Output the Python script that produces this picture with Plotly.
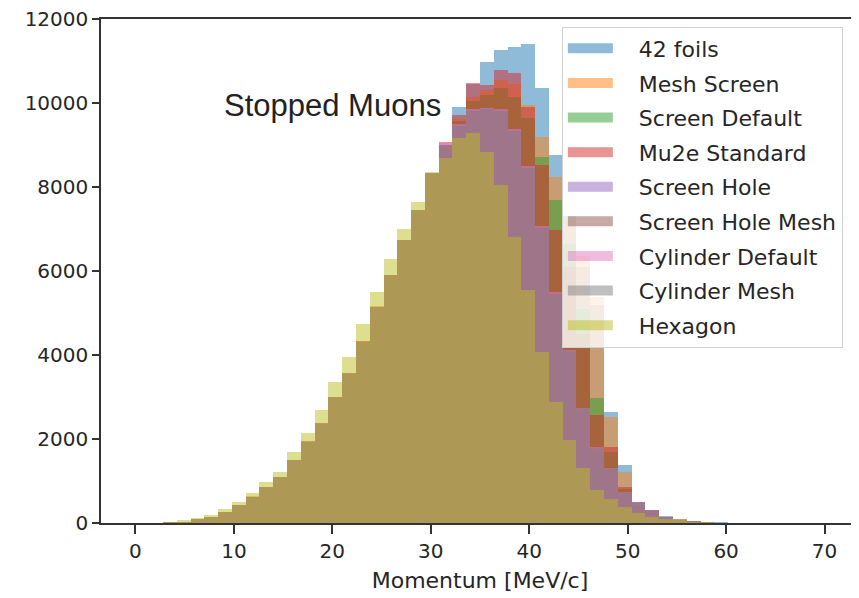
import numpy as np
import plotly.graph_objects as go

# 50 bins of 1.4 MeV/c from 0 to 70
bin_edges = np.linspace(0, 70, 51)

series_names = ["42 foils", "Mesh Screen", "Screen Default", "Mu2e Standard",
                "Screen Hole", "Screen Hole Mesh", "Cylinder Default",
                "Cylinder Mesh", "Hexagon"]

foils42 = [0, 0, 18, 32, 88, 148, 262, 428, 625, 858, 1095, 1490, 1935, 2360, 2985, 3550, 4310, 5140, 5890, 6730, 7440, 8320,
           9000, 9900, 10450, 10980, 11260, 11340, 11400, 10360, 8760, 7300, 6100, 5200, 2640, 1380, 470, 300, 160, 90, 55, 30, 15,
           0, 0, 0, 0, 0, 0, 0]
mesh_screen = [0, 0, 20, 30, 92, 152, 258, 432, 632, 862, 1102, 1505, 1945, 2375, 2995, 3565, 4325, 5155, 5905, 6745, 7455, 8335,
               8950, 9620, 10150, 10300, 10550, 10450, 9950, 9190, 8240, 7250, 6350, 5380, 2520, 1210, 450, 280, 150, 85, 50, 28, 12,
               0, 0, 0, 0, 0, 0, 0]
screen_default = [0, 0, 19, 31, 90, 150, 260, 430, 628, 860, 1098, 1498, 1940, 2368, 2990, 3558, 4318, 5148, 5898, 6738, 7448, 8328,
                  8920, 9560, 10050, 10200, 10350, 10150, 9650, 8710, 7690, 6650, 5100, 2980, 1700, 820, 420, 270, 140, 80, 45, 25, 10,
                  0, 0, 0, 0, 0, 0, 0]
mu2e_standard = [0, 0, 21, 29, 91, 151, 261, 431, 631, 861, 1101, 1502, 1942, 2372, 2992, 3562, 4322, 5152, 5902, 6742, 7452, 8332,
                 9070, 9710, 10470, 10430, 10790, 10710, 9900, 8520, 6980, 6100, 4500, 2570, 1810, 860, 440, 280, 145, 80, 45, 25, 10,
                 0, 0, 0, 0, 0, 0, 0]
screen_hole = [0, 0, 20, 30, 89, 149, 259, 429, 629, 859, 1099, 1499, 1939, 2369, 2989, 3559, 4319, 5149, 5899, 6739, 7449, 8329,
               9000, 9480, 9830, 9870, 9830, 9360, 8480, 7050, 5480, 4100, 2740, 1790, 1310, 740, 500, 310, 140, 80, 50, 30, 12,
               0, 0, 0, 0, 0, 0, 0]
screen_hole_mesh = [0, 0, 20, 30, 90, 150, 260, 430, 630, 860, 1100, 1500, 1940, 2370, 2990, 3560, 4320, 5150, 5900, 6740, 7450, 8330,
                    8980, 9450, 9800, 9850, 9790, 9330, 8450, 7020, 5450, 4080, 2720, 1770, 1290, 730, 490, 300, 135, 78, 48, 28, 11,
                    0, 0, 0, 0, 0, 0, 0]
cylinder_default = [0, 0, 21, 31, 91, 151, 261, 431, 631, 861, 1101, 1501, 1941, 2371, 2991, 3561, 4321, 5151, 5901, 6741, 7451, 8331,
                    9040, 9500, 9860, 9880, 9850, 9380, 8500, 7060, 5490, 4120, 2750, 1800, 1320, 745, 500, 305, 140, 80, 50, 30, 12,
                    0, 0, 0, 0, 0, 0, 0]
cylinder_mesh = [0, 0, 19, 29, 89, 149, 259, 429, 629, 859, 1099, 1499, 1939, 2369, 2989, 3559, 4319, 5149, 5899, 6739, 7449, 8329,
                 8990, 9460, 9810, 9860, 9810, 9340, 8460, 7030, 5460, 4090, 2730, 1780, 1300, 735, 495, 302, 138, 79, 49, 29, 11,
                 0, 0, 0, 0, 0, 0, 0]
hexagon = [0, 0, 30, 60, 120, 190, 325, 510, 710, 985, 1220, 1700, 2150, 2690, 3360, 3960, 4750, 5510, 6280, 7000, 7650, 8360,
           8690, 9160, 9280, 8830, 8050, 6810, 5550, 4070, 2880, 1980, 1310, 790, 580, 370, 240, 150, 95, 60, 35, 20, 8,
           0, 0, 0, 0, 0, 0, 0]

all_counts = [foils42, mesh_screen, screen_default, mu2e_standard, screen_hole,
              screen_hole_mesh, cylinder_default, cylinder_mesh, hexagon]

colors = ["rgba(31,119,180,0.5)", "rgba(255,127,14,0.5)", "rgba(44,160,44,0.5)",
          "rgba(214,39,40,0.5)", "rgba(148,103,189,0.5)", "rgba(140,86,75,0.5)",
          "rgba(227,119,194,0.5)", "rgba(127,127,127,0.5)", "rgba(188,189,34,0.5)"]

x_ticks = [0, 10, 20, 30, 40, 50, 60, 70]
y_ticks = [0, 2000, 4000, 6000, 8000, 10000, 12000]

centers = (bin_edges[:-1] + bin_edges[1:]) / 2
widths = np.diff(bin_edges)

fig = go.Figure()
for name, counts, col in zip(series_names, all_counts, colors):
    fig.add_trace(go.Bar(x=centers, y=counts, width=widths, name=name, legendgroup=name,
                         showlegend=False, marker=dict(color=col, line=dict(width=0))))
# legend swatches (wide patches like matplotlib)
pad = "\u00a0\u00a0\u00a0"
for name, col in zip(series_names, colors):
    fig.add_trace(go.Scatter(x=[None], y=[None], mode="lines", name=pad + name, legendgroup=name,
                             line=dict(color=col, width=15), showlegend=True))

txt = "#262626"
fig.update_layout(
    width=851, height=590,
    barmode="overlay", bargap=0,
    plot_bgcolor="white", paper_bgcolor="white",
    margin=dict(l=93, r=0, t=11, b=75),
    font=dict(family="DejaVu Sans", size=19, color=txt),
    showlegend=True,
    legend=dict(x=0.608, y=0.985, xanchor="left", yanchor="top",
                bgcolor="rgba(255,255,255,0.8)", bordercolor="#d0d0d0", borderwidth=1,
                font=dict(family="DejaVu Sans", size=22, color=txt),
                itemwidth=45, tracegroupgap=3),
    xaxis=dict(range=[-3.5, 73.5], tickvals=x_ticks, ticks="outside", ticklen=9,
               tickwidth=1.5, tickcolor="#333", showline=True, linecolor="#333",
               linewidth=1.5, mirror=True, showgrid=False, zeroline=False,
               automargin=False, ticklabeloverflow="allow",
               title=dict(text="Momentum [MeV/c]", font=dict(size=22), standoff=11),
               tickfont=dict(size=20)),
    yaxis=dict(range=[0, 12000], tickvals=y_ticks, ticktext=[str(v) for v in y_ticks],
               ticks="outside", ticklen=7,
               tickwidth=1.5, tickcolor="#333", showline=True, linecolor="#333",
               linewidth=1.5, showgrid=False, zeroline=False, automargin=False,
               ticklabeloverflow="allow", tickfont=dict(size=20)),
    annotations=[dict(x=8.8, y=9950, xref="x", yref="y", text="Stopped Muons",
                      showarrow=False, xanchor="left", yanchor="middle",
                      font=dict(family="Liberation Sans", size=31, color="#222"))],
)

fig.write_html("out.html")
